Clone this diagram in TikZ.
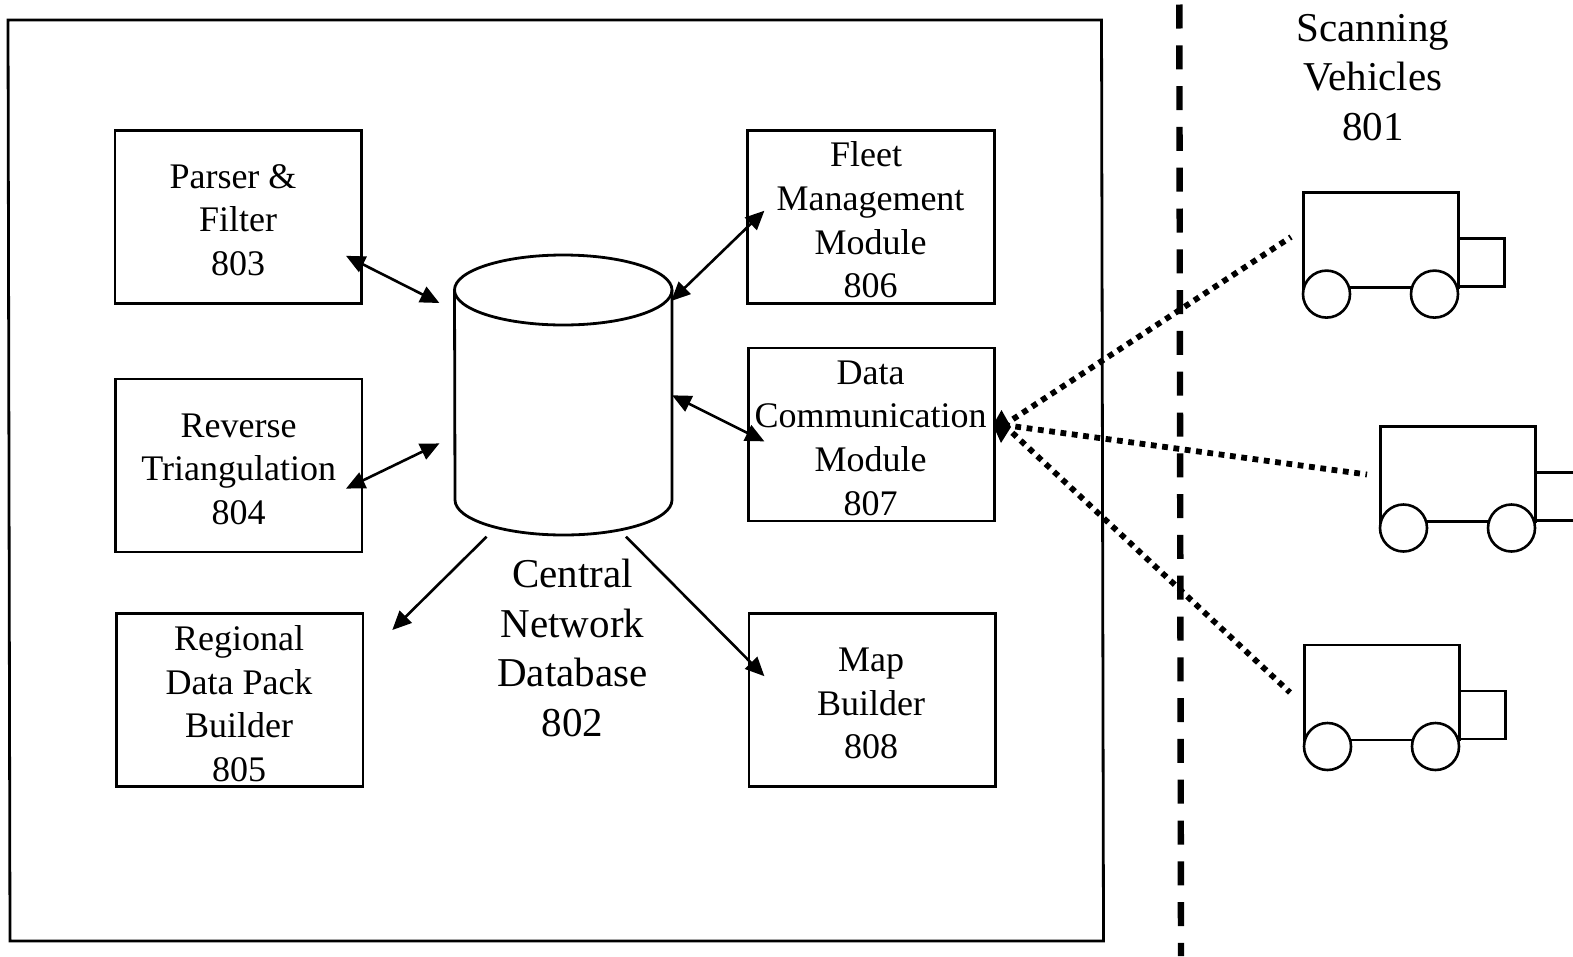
\documentclass[tikz,border=0pt]{standalone}
\usepackage{fontspec}
\setmainfont{Liberation Serif}
\usetikzlibrary{arrows.meta}
\tikzset{
  x=1pt,y=-1pt,
  modbox/.style={draw=black,line width=2.6pt,minimum width=246.5pt,minimum height=173pt,inner sep=0pt},
  modtext/.style={inner sep=0pt,align=center,font=\fontsize{36}{43.6}\selectfont},
  biglabel/.style={inner sep=0pt,align=center,font=\fontsize{41}{49.6}\selectfont},
  link/.style={line width=2.6pt,line join=miter},
  linkboth/.style={link,{Triangle[length=19pt,width=17pt]}-{Triangle[length=19pt,width=17pt]}},
  linkone/.style={link,-{Triangle[length=19pt,width=17pt]}},
  radio/.style={line width=5.8pt,dash pattern=on 5.8pt off 5.6pt},
  border/.style={line width=2.8pt,line cap=rect},
  vehicle/.style={line width=2.6pt},
}
\newcommand{\truck}[2]{%
  \begin{scope}[shift={(#1,#2)}]
    \draw[vehicle] (0,95) -- (0,0) -- (155,0) -- (155,95) -- cycle;
    \draw[vehicle] (155,46) -- (201,46) -- (201,94) -- (155,94);
    \draw[vehicle,fill=white] (23,101.5) circle (23.5);
    \draw[vehicle,fill=white] (131,101.5) circle (23.5);
  \end{scope}}
\begin{document}
\begin{tikzpicture}
\useasboundingbox (0,0) rectangle (1573,956);
% outer frame
\draw[border] (8,20) -- (1101.5,20) -- (1103.5,941) -- (10,941) -- cycle;
% separator
\draw[line width=6.4pt,dash pattern=on 24pt off 16.8pt] (1179.3,4.5) -- (1181,956);
% modules
\node[modbox] (n803) at (238.2,216.7) {};
\node[modbox] (n804) at (238.7,465.5) {};
\node[modbox] (n805) at (239.7,700) {};
\node[modbox] (n806) at (871,216.7) {};
\node[modbox] (n807) at (871.5,434.5) {};
\node[modbox] (n808) at (872.2,700) {};
\node[modtext] (t803) at (238,220) {Parser \&\kern10pt\\Filter\\803};
\node[modtext] (t804) at (238.7,469) {Reverse\\Triangulation\\804};
\node[modtext] (t805) at (239,703.5) {Regional\\Data Pack\\Builder\\805};
\node[modtext] (t806) at (870.5,220) {Fleet\kern9pt\\Management\\Module\\806};
\node[modtext] (t807) at (870.7,438) {Data\\Communication\\Module\\807};
\node[modtext] (t808) at (871.2,703.5) {Map\\Builder\\808};
% database
\draw[line width=2.8pt] (454.5,290) -- (455,500) arc[start angle=180,end angle=0,x radius=108.5,y radius=35] -- (672,290);
\draw[line width=2.8pt] (563.25,290) ellipse [x radius=108.75,y radius=35];
\node[biglabel] (n802) at (572.5,648) {Central\\Network\\Database\\802};
\node[biglabel] (n801) at (1373,77.5) {Scanning\\Vehicles\\801};
% connector ends
\coordinate (a1) at (346,255.8);
\coordinate (a2) at (439.4,303);
\coordinate (b1) at (346,488.6);
\coordinate (b2) at (439.4,443.4);
\coordinate (c1) at (486.6,536.7);
\coordinate (c2) at (392.3,630);
\coordinate (d1) at (671.1,301);
\coordinate (d2) at (764.4,210.7);
\coordinate (e1) at (672.1,395.3);
\coordinate (e2) at (764.4,441.4);
\coordinate (f1) at (626,536.7);
\coordinate (f2) at (764.4,676.2);
\draw[linkboth] (a1) -- (a2);
\draw[linkboth] (b1) -- (b2);
\draw[linkone] (c1) -- (c2);
\draw[linkboth] (d1) -- (d2);
\draw[linkboth] (e1) -- (e2);
\draw[linkone] (f1) -- (f2);
% vehicles
\truck{1303.5}{192.6}
\truck{1380.5}{426.5}
\truck{1304.5}{645}
\coordinate (hub) at (1004,425);
\coordinate (v1) at (1291,237);
\coordinate (v2) at (1367,474.5);
\coordinate (v3) at (1290,692.5);
\draw[radio,dash phase=4pt] (v1) -- (hub);
\draw[radio] (hub) -- (v2);
\draw[radio] (hub) -- (v3);
\fill (1001.5,410) -- (1011,427) -- (1001,443) -- (993,425) -- cycle;
\end{tikzpicture}
\end{document}
